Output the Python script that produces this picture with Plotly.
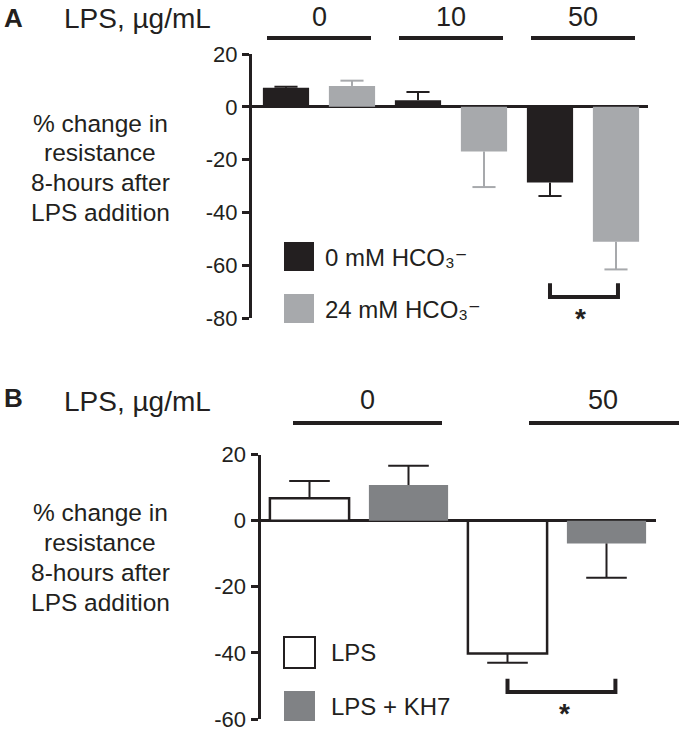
import plotly.graph_objects as go

W, H = 679, 743

# ---------------- data ----------------
# Panel A: % change in resistance, groups by LPS dose
a_groups = ["0", "10", "50"]
a_hco3_0 = [7.2, 2.5, -28.7]
a_hco3_0_err = [0.4, 3.1, 5.1]
a_hco3_24 = [7.9, -16.9, -51.1]
a_hco3_24_err = [2.0, 13.5, 10.5]
a_yticks = [20, 0, -20, -40, -60, -80]
a_yticklabels = ["20", "0", "-20", "-40", "-60", "-80"]
a_series_names = ["0 mM HCO₃⁻", "24 mM HCO₃⁻"]

# Panel B
b_groups = ["0", "50"]
b_lps = [6.8, -40.2]
b_lps_err = [5.2, 2.8]
b_kh7 = [10.8, -6.9]
b_kh7_err = [5.8, 10.4]
b_yticks = [20, 0, -20, -40, -60]
b_yticklabels = ["20", "0", "-20", "-40", "-60"]
b_series_names = ["LPS", "LPS + KH7"]

dose_label = "LPS, µg/mL"
ylabel_lines = ["% change in", "resistance", "8-hours after", "LPS addition"]

# ---------------- style ----------------
BLACK = "#231f20"
GREY_A = "#a7a9ac"
GREY_B = "#808285"
FONT = "Liberation Sans, Arial, DejaVu Sans, sans-serif"


def px(p):
    return p / W


def py(p):
    return 1 - p / H


fig = go.Figure()


def add_series(xs, vals, errs, fill, line_w, err_color, halfcap, xa, ya, bw):
    fig.add_trace(go.Bar(
        x=xs, y=vals, width=bw, xaxis=xa, yaxis=ya,
        marker=dict(color=fill, line=dict(width=line_w, color=BLACK)),
        showlegend=False))
    # one-sided error bars (pointing away from zero)
    ex, ey = [], []
    for x, v, e in zip(xs, vals, errs):
        tip = v + e if v >= 0 else v - e
        ex += [x, x, None, x - halfcap, x + halfcap, None]
        ey += [v, tip, None, tip, tip, None]
    fig.add_trace(go.Scatter(x=ex, y=ey, mode="lines", xaxis=xa, yaxis=ya,
                             line=dict(color=err_color, width=2),
                             showlegend=False, hoverinfo="skip"))


xa0 = [2 * i for i in range(len(a_groups))]
xa1 = [2 * i + 1 for i in range(len(a_groups))]
xb0 = [2 * i for i in range(len(b_groups))]
xb1 = [2 * i + 1 for i in range(len(b_groups))]

add_series(xa0, a_hco3_0, a_hco3_0_err, BLACK, 0, BLACK, 0.175, "x", "y", 0.7)
add_series(xa1, a_hco3_24, a_hco3_24_err, GREY_A, 0, GREY_A, 0.175, "x", "y", 0.7)
add_series(xb0, b_lps, b_lps_err, "white", 2.5, BLACK, 0.205, "x2", "y2", 0.8)
add_series(xb1, b_kh7, b_kh7_err, GREY_B, 0, BLACK, 0.205, "x2", "y2", 0.8)

yax_common = dict(showline=True, linewidth=3, linecolor=BLACK, ticks="outside",
                  ticklen=7, tickwidth=3, tickcolor=BLACK, showgrid=False,
                  zeroline=True, zerolinewidth=3, zerolinecolor=BLACK,
                  automargin=False,
                  tickfont=dict(size=22, color=BLACK, family=FONT))

fig.update_layout(
    width=W, height=H,
    margin=dict(l=0, r=0, t=0, b=0, pad=0, autoexpand=False),
    paper_bgcolor="white", plot_bgcolor="white", barmode="overlay",
    font=dict(family=FONT, color=BLACK, size=22),
    xaxis=dict(domain=[px(252), px(648)], range=[-0.515, 5.485], visible=False,
               anchor="y", fixedrange=True, automargin=False),
    yaxis=dict(domain=[py(318), py(54)], range=[-80, 20], tickvals=a_yticks,
               ticktext=a_yticklabels, anchor="x", **yax_common),
    xaxis2=dict(domain=[px(260.5), px(656)], range=[-0.495, 3.5], visible=False,
                anchor="y2", fixedrange=True, automargin=False),
    yaxis2=dict(domain=[py(719), py(454.5)], range=[-60, 20], tickvals=b_yticks,
                ticktext=b_yticklabels, anchor="x2", **yax_common),
)

shapes = []
annots = []


def ann(x, y, text, size, xanchor="center", bold=False):
    annots.append(dict(x=px(x), y=py(y), xref="paper", yref="paper", text=text,
                       showarrow=False, xanchor=xanchor, yanchor="middle",
                       font=dict(size=size, color=BLACK,
                                 family=FONT, weight="bold" if bold else "normal")))


def hline(x0, x1, y, w=4):
    shapes.append(dict(type="line", xref="paper", yref="paper", x0=px(x0), x1=px(x1),
                       y0=py(y), y1=py(y), line=dict(color=BLACK, width=w)))


def box(x0, x1, y0, y1, fill, lw):
    shapes.append(dict(type="rect", xref="paper", yref="paper", x0=px(x0), x1=px(x1),
                       y0=py(y1), y1=py(y0), fillcolor=fill,
                       line=dict(color=BLACK if lw else fill, width=lw)))


def ylabel_block(center_x, first_y, spacing):
    for i, line in enumerate(ylabel_lines):
        ann(center_x, first_y + i * spacing, line, 24.5)


# ---- Panel A header ----
ann(13, 18, "A", 26, bold=True)
ann(62, 19, dose_label, 28, xanchor="left")
a_segments = [(267, 371), (399, 503), (531, 635)]
for (x0, x1), g in zip(a_segments, a_groups):
    hline(x0, x1, 38)
    ann((x0 + x1) / 2, 17, g, 27)
ylabel_block(100, 123, 29.7)

# legend A
box(284, 314, 242, 271, BLACK, 0)
box(284, 314, 294, 323, GREY_A, 0)
ann(323, 257, a_series_names[0], 24, xanchor="left")
ann(323, 309, a_series_names[1], 24, xanchor="left")

# significance bracket A (between the two 50 µg/mL bars)
shapes.append(dict(type="path", xref="x", yref="y",
                   path=f"M {xa0[2]},-66.8 L {xa0[2]},-72 L {xa1[2] + 0.03},-72 L {xa1[2] + 0.03},-66.8",
                   line=dict(color=BLACK, width=4)))
ann(580, 318, "*", 28, bold=True)

# ---- Panel B header ----
ann(13, 398, "B", 26, bold=True)
ann(62, 401, dose_label, 28, xanchor="left")
b_segments = [(293, 442), (529, 679)]
for (x0, x1), g in zip(b_segments, b_groups):
    hline(x0, x1, 423)
    ann((x0 + x1) / 2 if x1 < 679 else 603, 400, g, 27)
ylabel_block(100, 512, 30)

# legend B
box(284, 315, 637, 668, "white", 2)
box(284, 315, 691, 721, GREY_B, 0)
ann(329, 652, b_series_names[0], 24, xanchor="left")
ann(329, 706, b_series_names[1], 24, xanchor="left")

shapes.append(dict(type="path", xref="x2", yref="y2",
                   path=f"M {xb0[1]},-47.8 L {xb0[1]},-51.8 L {xb1[1] + 0.09},-51.8 L {xb1[1] + 0.09},-47.8",
                   line=dict(color=BLACK, width=4)))
ann(564, 713, "*", 28, bold=True)

fig.update_layout(shapes=shapes, annotations=annots)
fig.write_html("out.html", config={"displayModeBar": False},
               post_script="document.body.style.margin='0px';")
